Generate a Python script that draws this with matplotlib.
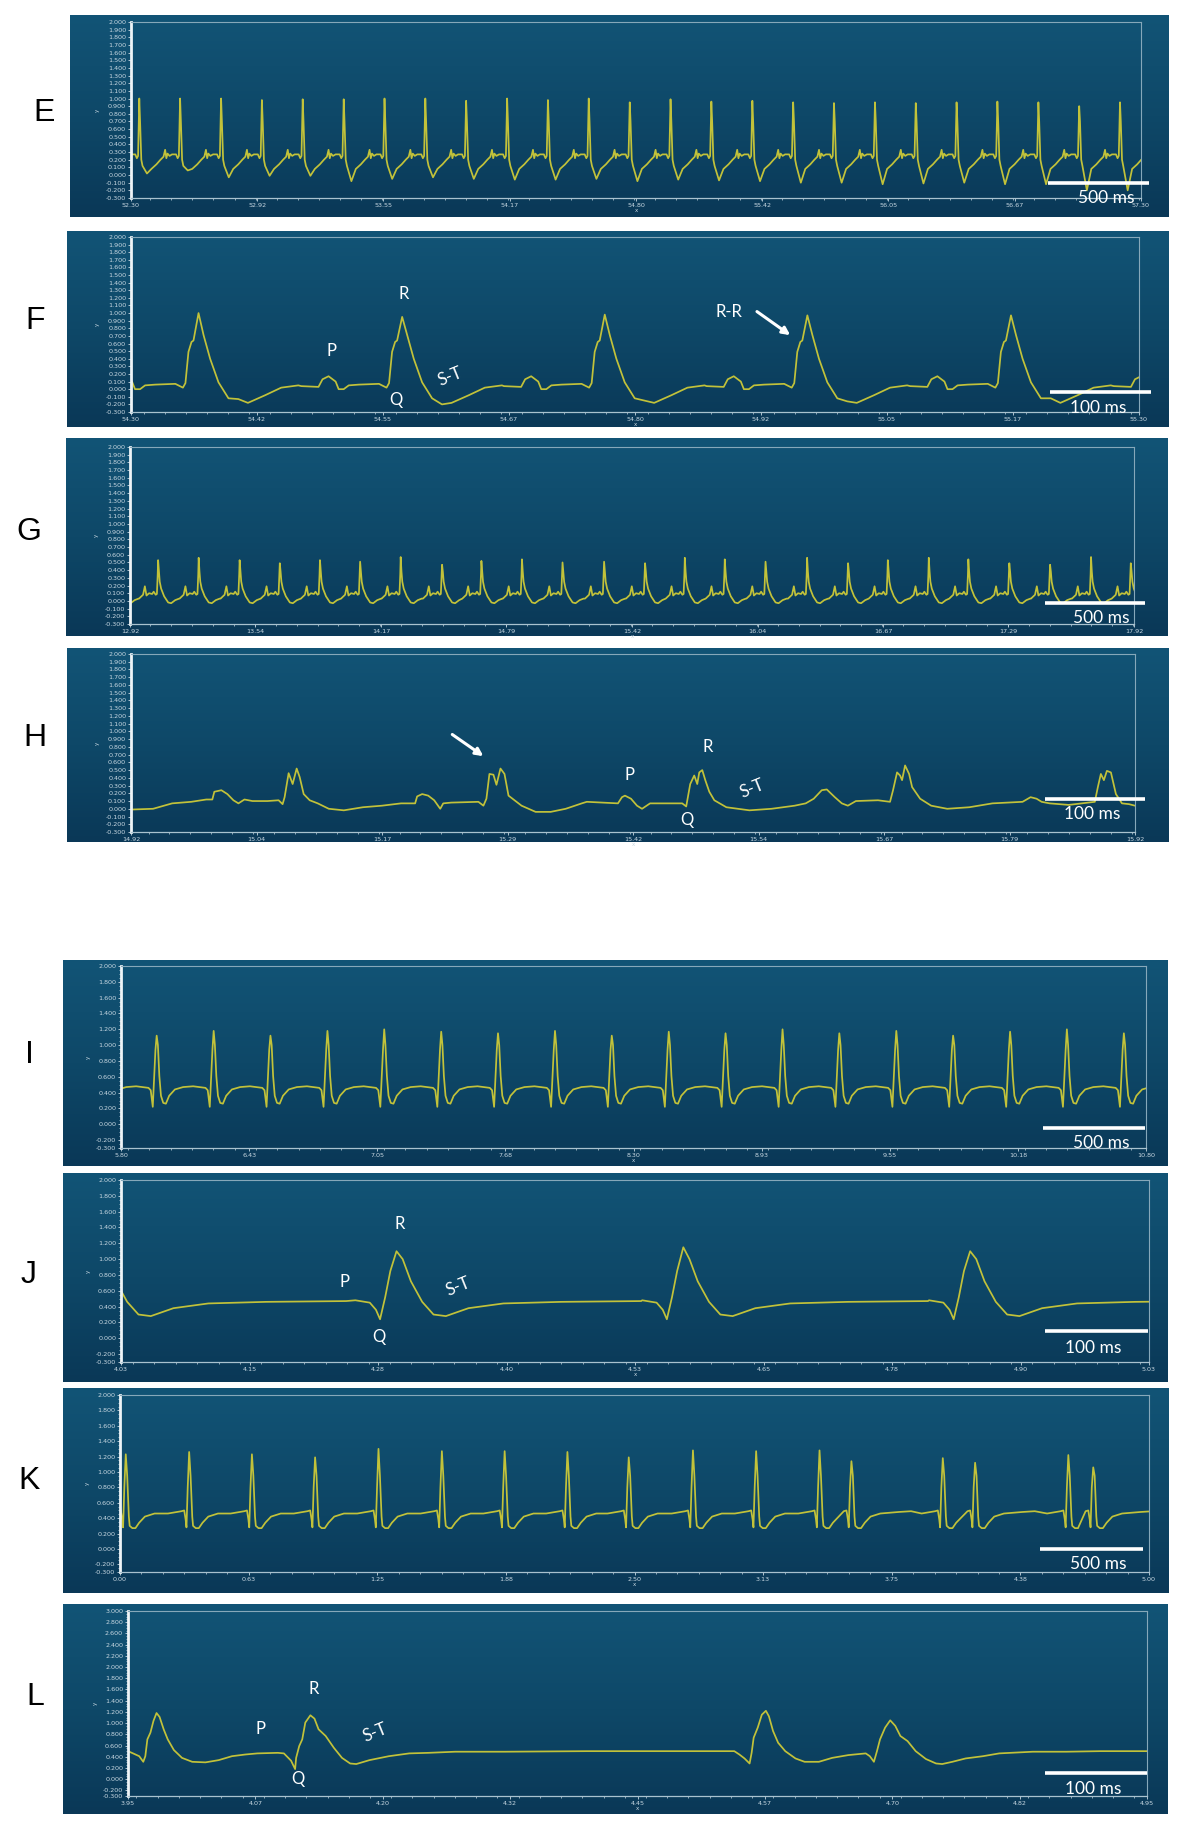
import numpy as np
import matplotlib
matplotlib.use("Agg")
import matplotlib.pyplot as plt
from matplotlib.ticker import FixedLocator, FixedFormatter, MultipleLocator
from matplotlib.colors import LinearSegmentedColormap

plt.rcParams['font.family'] = ['DejaVu Sans']

# ---------------------------------------------------------------- data
# x tick labels of each panel
E_xlabels = ['52.30', '52.92', '53.55', '54.17', '54.80', '55.42', '56.05', '56.67', '57.30']
F_xlabels = ['54.30', '54.42', '54.55', '54.67', '54.80', '54.92', '55.05', '55.17', '55.30']
G_xlabels = ['12.92', '13.54', '14.17', '14.79', '15.42', '16.04', '16.67', '17.29', '17.92']
H_xlabels = ['14.92', '15.04', '15.17', '15.29', '15.42', '15.54', '15.67', '15.79', '15.92']
I_xlabels = ['5.80', '6.43', '7.05', '7.68', '8.30', '8.93', '9.55', '10.18', '10.80']
J_xlabels = ['4.03', '4.15', '4.28', '4.40', '4.53', '4.65', '4.78', '4.90', '5.03']
K_xlabels = ['0.00', '0.63', '1.25', '1.88', '2.50', '3.13', '3.75', '4.38', '5.00']
L_xlabels = ['3.95', '4.07', '4.20', '4.32', '4.45', '4.57', '4.70', '4.82', '4.95']

# E: beat shape (time from R peak, s) and beats
E_tmpl_dt = [-0.040, -0.020, -0.012, -0.006, -0.003, 0.000, 0.004, 0.010, 0.016, 0.038,
             0.060, 0.085, 0.105, 0.120, 0.128, 0.134, 0.140, 0.150, 0.162]
E_tmpl_v = [0.27, 0.27, 0.22, 0.25, 0.60, 1.00, 0.70, 0.20, 0.12, 0.02,
            0.08, 0.14, 0.20, 0.24, 0.33, 0.22, 0.28, 0.25, 0.27]
E_beats = [52.341, 52.543, 52.746, 52.948, 53.150, 53.353, 53.555, 53.757, 53.959, 54.162,
           54.364, 54.566, 54.769, 54.971, 55.173, 55.376, 55.578, 55.780, 55.983, 56.185,
           56.387, 56.589, 56.792, 56.994, 57.196]
E_peaks = [1.00, 1.00, 1.00, 0.98, 0.99, 0.99, 1.00, 1.00, 0.97, 1.00, 0.98, 1.00, 0.95,
           0.99, 0.96, 0.97, 0.95, 0.94, 0.95, 0.94, 0.95, 0.96, 0.95, 0.90, 0.95]
E_troughs = [0.02, 0.06, -0.03, -0.01, -0.01, -0.08, -0.05, -0.03, -0.05, -0.06, -0.06, -0.05,
             -0.08, -0.06, -0.07, -0.08, -0.10, -0.10, -0.12, -0.11, -0.10, -0.12, -0.12, -0.20, -0.20]

# F
F_tmpl_dt = [-0.100, -0.083, -0.079, -0.073, -0.069, -0.066, -0.063, -0.058, -0.053, -0.043,
             -0.023, -0.0155, -0.013, -0.010, -0.007, -0.005, 0.000, 0.005, 0.0115, 0.0198,
             0.0297, 0.0395, 0.049, 0.066, 0.082, 0.099]
F_tmpl_v = [0.04, 0.03, 0.13, 0.17, 0.13, 0.10, 0.00, 0.00, 0.05, 0.06,
            0.07, 0.02, 0.08, 0.49, 0.62, 0.64, 0.95, 0.71, 0.40, 0.09,
            -0.12, -0.20, -0.18, -0.08, 0.02, 0.05]
F_beats = [54.367, 54.569, 54.770, 54.971, 55.173, 55.375]
F_peaks = [1.00, 0.95, 0.98, 0.97, 0.97, 0.97]
F_troughs = [-0.13, -0.20, -0.15, -0.16, -0.12, -0.12]

# G
G_tmpl_dt = [-0.095, -0.075, -0.066, -0.058, -0.045, -0.030, -0.022, -0.012, -0.006, -0.002,
             0.000, 0.004, 0.008, 0.015, 0.030, 0.050, 0.065, 0.085, 0.105]
G_tmpl_v = [0.03, 0.08, 0.19, 0.07, 0.10, 0.09, 0.12, 0.08, 0.09, 0.35,
            0.52, 0.38, 0.25, 0.16, 0.06, -0.02, -0.03, 0.01, 0.03]
G_beats = [12.858, 13.060, 13.262, 13.466, 13.666, 13.866, 14.066, 14.268, 14.474, 14.670,
           14.872, 15.074, 15.281, 15.485, 15.683, 15.882, 16.085, 16.292, 16.496, 16.694,
           16.898, 17.095, 17.299, 17.502, 17.706, 17.904]
G_peaks = [0.50, 0.53, 0.56, 0.53, 0.49, 0.53, 0.51, 0.57, 0.47, 0.52, 0.54, 0.50, 0.51,
           0.49, 0.56, 0.54, 0.51, 0.56, 0.49, 0.53, 0.56, 0.54, 0.49, 0.47, 0.57, 0.49]

# H (trace read point by point)
H_t = [14.920, 14.942, 14.961, 14.980, 14.995, 15.001, 15.003, 15.010, 15.016, 15.022,
       15.027, 15.033, 15.037, 15.041, 15.056, 15.067, 15.071, 15.073, 15.077, 15.081,
       15.085, 15.088, 15.092, 15.098, 15.106, 15.117, 15.132, 15.151, 15.170, 15.189,
       15.203, 15.205, 15.210, 15.216, 15.222, 15.228, 15.231, 15.239, 15.266, 15.271,
       15.274, 15.277, 15.281, 15.284, 15.288, 15.292, 15.296, 15.302, 15.309, 15.323,
       15.338, 15.353, 15.369, 15.374,
       15.405, 15.409, 15.412, 15.418, 15.424, 15.429, 15.437, 15.452, 15.469, 15.473,
       15.477, 15.481, 15.484, 15.486, 15.489, 15.492, 15.496, 15.501, 15.513, 15.536,
       15.558, 15.581, 15.592, 15.600, 15.608, 15.613, 15.621, 15.628, 15.634, 15.642,
       15.664, 15.676, 15.679, 15.683, 15.686, 15.688, 15.691, 15.695, 15.698, 15.706,
       15.717, 15.733, 15.755, 15.778, 15.808, 15.816, 15.822, 15.827, 15.835, 15.854,
       15.880, 15.883, 15.886, 15.889, 15.892, 15.896, 15.901, 15.907, 15.914, 15.920]
H_v = [-0.01, 0.00, 0.07, 0.09, 0.12, 0.12, 0.22, 0.24, 0.19, 0.11,
       0.07, 0.12, 0.11, 0.10, 0.10, 0.11, 0.06, 0.15, 0.46, 0.32,
       0.52, 0.41, 0.19, 0.11, 0.07, 0.00, -0.02, 0.02, 0.04, 0.07,
       0.07, 0.16, 0.19, 0.17, 0.11, 0.00, 0.07, 0.08, 0.09, 0.04,
       0.13, 0.45, 0.44, 0.31, 0.52, 0.45, 0.17, 0.11, 0.04, -0.04,
       -0.04, 0.00, 0.07, 0.09,
       0.07, 0.15, 0.17, 0.13, 0.04, 0.00, 0.07, 0.07, 0.07, 0.03,
       0.32, 0.43, 0.32, 0.47, 0.50, 0.37, 0.22, 0.11, 0.02, -0.02,
       0.00, 0.04, 0.07, 0.13, 0.24, 0.25, 0.15, 0.07, 0.04, 0.10,
       0.11, 0.09, 0.24, 0.47, 0.43, 0.37, 0.56, 0.45, 0.28, 0.13,
       0.04, 0.00, 0.02, 0.07, 0.09, 0.15, 0.13, 0.09, 0.07, 0.05,
       0.09, 0.28, 0.45, 0.37, 0.49, 0.47, 0.19, 0.07, 0.06, 0.04]

# I
I_tmpl_dt = [-0.100, -0.040, -0.029, -0.019, -0.013, -0.006, 0.000, 0.006, 0.013, 0.021,
             0.032, 0.045, 0.061, 0.089, 0.129, 0.176]
I_tmpl_v = [0.48, 0.46, 0.43, 0.22, 0.55, 0.94, 1.12, 1.00, 0.61, 0.36,
            0.27, 0.26, 0.36, 0.44, 0.47, 0.48]
I_beats = [5.697, 5.974, 6.252, 6.529, 6.807, 7.084, 7.362, 7.639, 7.917, 8.194,
           8.472, 8.749, 9.027, 9.304, 9.582, 9.859, 10.137, 10.414, 10.692]
I_peaks = [1.15, 1.12, 1.18, 1.12, 1.18, 1.20, 1.17, 1.15, 1.18, 1.12,
           1.17, 1.15, 1.20, 1.15, 1.18, 1.12, 1.17, 1.20, 1.15]

# J
J_tmpl_dt = [-0.040, -0.026, -0.020, -0.016, -0.011, -0.006, 0.000, 0.006, 0.014, 0.025,
             0.036, 0.048, 0.070, 0.104, 0.160, 0.238]
J_tmpl_v = [0.48, 0.45, 0.36, 0.24, 0.52, 0.85, 1.10, 1.00, 0.72, 0.46,
            0.30, 0.28, 0.38, 0.44, 0.46, 0.47]
J_beats = [4.011, 4.298, 4.577, 4.856]
J_peaks = [1.10, 1.10, 1.15, 1.10]

# K
K_tmpl_dt = [-0.103, -0.037, -0.024, -0.017, -0.013, -0.007, 0.000, 0.007, 0.015, 0.019,
             0.032, 0.047, 0.065, 0.093, 0.140, 0.230, 0.290]
K_tmpl_v = [0.46, 0.49, 0.50, 0.38, 0.28, 0.80, 1.25, 0.95, 0.42, 0.30,
            0.27, 0.27, 0.34, 0.42, 0.46, 0.48, 0.49]
K_beats = [0.028, 0.336, 0.641, 0.948, 1.256, 1.564, 1.869, 2.174, 2.472, 2.784,
           3.091, 3.399, 3.554, 3.998, 4.155, 4.608, 4.729]
K_peaks = [1.23, 1.26, 1.23, 1.19, 1.30, 1.27, 1.27, 1.26, 1.19, 1.28,
           1.27, 1.28, 1.14, 1.18, 1.12, 1.22, 1.06]

# L (trace read point by point)
L_t = [3.950, 3.955, 3.961, 3.965, 3.967, 3.969, 3.972, 3.975, 3.978, 3.981,
       3.985, 3.989, 3.995, 4.003, 4.013, 4.026, 4.039, 4.052, 4.065, 4.077,
       4.097, 4.103, 4.110, 4.114, 4.115, 4.118, 4.121, 4.124, 4.129, 4.133,
       4.137, 4.144, 4.152, 4.160, 4.168, 4.174, 4.187, 4.206, 4.226, 4.245, 4.271,
       4.320, 4.400, 4.450,
       4.509, 4.545, 4.550, 4.555, 4.560, 4.562, 4.564, 4.568, 4.572, 4.576,
       4.579, 4.583, 4.588, 4.595, 4.605, 4.614, 4.628, 4.641, 4.657, 4.674,
       4.678, 4.682, 4.685, 4.688, 4.693, 4.698, 4.703, 4.708, 4.715, 4.723,
       4.733, 4.743, 4.749, 4.759, 4.772, 4.789, 4.805, 4.838, 4.871, 4.904, 4.950]
L_v = [0.50, 0.46, 0.41, 0.31, 0.41, 0.71, 0.83, 1.04, 1.18, 1.11,
       0.89, 0.71, 0.52, 0.38, 0.31, 0.30, 0.34, 0.41, 0.44, 0.46,
       0.47, 0.46, 0.33, 0.18, 0.38, 0.59, 0.71, 1.01, 1.14, 1.08,
       0.89, 0.77, 0.56, 0.38, 0.28, 0.27, 0.34, 0.41, 0.46, 0.47, 0.49,
       0.49, 0.50, 0.50,
       0.50, 0.50, 0.44, 0.37, 0.28, 0.47, 0.74, 0.92, 1.15, 1.22,
       1.12, 0.86, 0.65, 0.50, 0.37, 0.31, 0.31, 0.38, 0.43, 0.46,
       0.41, 0.31, 0.50, 0.71, 0.92, 1.05, 0.95, 0.77, 0.68, 0.50,
       0.36, 0.28, 0.27, 0.31, 0.37, 0.41, 0.46, 0.49, 0.49, 0.50, 0.50]


# ---------------------------------------------------------------- helpers
def build(beats, peaks, tdt, tv, ipk, troughs=None, itr=None):
    tdt = np.asarray(tdt, float)
    tv = np.asarray(tv, float)
    pre = -tdt[0]
    ts, vs = [], []
    n = len(beats)
    for k in range(n):
        bt = beats[k]
        gp = beats[k] - beats[k - 1] if k > 0 else np.inf
        gn = beats[k + 1] - beats[k] if k < n - 1 else np.inf
        lo = -min(pre, 0.5 * gp)
        hi = gn - min(pre, 0.5 * gn)
        vv = tv.copy()
        vv[ipk] = peaks[k]
        if troughs is not None:
            vv[itr] = troughs[k]
        m = (tdt >= lo - 1e-9) & (tdt < hi)
        ts.extend(bt + tdt[m])
        vs.extend(vv[m])
    return np.array(ts), np.array(vs)


E_t, E_v = build(E_beats, E_peaks, E_tmpl_dt, E_tmpl_v, 5, E_troughs, 9)
F_t, F_v = build(F_beats, F_peaks, F_tmpl_dt, F_tmpl_v, 16, F_troughs, 21)
G_t, G_v = build(G_beats, G_peaks, G_tmpl_dt, G_tmpl_v, 10)
I_t, I_v = build(I_beats, I_peaks, I_tmpl_dt, I_tmpl_v, 6)
J_t, J_v = build(J_beats, J_peaks, J_tmpl_dt, J_tmpl_v, 6)
K_t, K_v = build(K_beats, K_peaks, K_tmpl_dt, K_tmpl_v, 6)

W, H = 1185, 1829
fig = plt.figure(figsize=(W / 100, H / 100), dpi=100)
fig.patch.set_facecolor('white')


def frect(l, t, r, b):
    return [l / W, 1 - b / H, (r - l) / W, (b - t) / H]


cmap = LinearSegmentedColormap.from_list('bg', ['#125476', '#0e4868', '#0a3857'])
TRACE = '#c2c23a'
TICKC = '#c8d8e2'

panels = [
    dict(name='E', rect=(70, 15, 1169, 217), ax=(131, 22, 1141, 198), xl=E_xlabels, t=E_t, v=E_v,
         ytop=2.0, fine=True, bar=0.5, bar_px=(1048, 183), txt_px=(1106, 198), lab=(44, 113)),
    dict(name='F', rect=(67, 231, 1169, 427), ax=(131, 237, 1139, 412), xl=F_xlabels, t=F_t, v=F_v,
         ytop=2.0, fine=True, bar=0.1, bar_px=(1050, 392), txt_px=(1098, 408), lab=(35, 321)),
    dict(name='G', rect=(66, 438, 1168, 636), ax=(130, 447, 1134, 624), xl=G_xlabels, t=G_t, v=G_v,
         ytop=2.0, fine=True, bar=0.5, bar_px=(1045, 603), txt_px=(1101, 618), lab=(29, 532)),
    dict(name='H', rect=(67, 648, 1169, 842), ax=(131, 654, 1135, 832), xl=H_xlabels, t=H_t, v=H_v,
         ytop=2.0, fine=True, bar=0.1, bar_px=(1045, 799), txt_px=(1092, 814), lab=(35, 738)),
    dict(name='I', rect=(63, 960, 1168, 1166), ax=(121, 966, 1146, 1148), xl=I_xlabels, t=I_t, v=I_v,
         ytop=2.0, fine=False, bar=0.5, bar_px=(1043, 1128), txt_px=(1101, 1143), lab=(29, 1055)),
    dict(name='J', rect=(63, 1173, 1168, 1382), ax=(121, 1180, 1149, 1362), xl=J_xlabels, t=J_t, v=J_v,
         ytop=2.0, fine=False, bar=0.1, bar_px=(1045, 1331), txt_px=(1093, 1348), lab=(29, 1275)),
    dict(name='K', rect=(63, 1388, 1169, 1593), ax=(120, 1395, 1149, 1572), xl=K_xlabels, t=K_t, v=K_v,
         ytop=2.0, fine=False, bar=0.5, bar_px=(1040, 1549), txt_px=(1098, 1564), lab=(29, 1481)),
    dict(name='L', rect=(63, 1604, 1168, 1814), ax=(128, 1611, 1147, 1796), xl=L_xlabels, t=L_t, v=L_v,
         ytop=3.0, fine=False, bar=0.1, bar_px=(1045, 1773), txt_px=(1093, 1789), lab=(35, 1697)),
]

axes = {}
for p in panels:
    bg = fig.add_axes(frect(*p['rect']))
    bg.imshow(np.linspace(0, 1, 256).reshape(-1, 1), aspect='auto', cmap=cmap,
              extent=[0, 1, 0, 1], interpolation='bilinear')
    bg.set_axis_off()

    ax = fig.add_axes(frect(*p['ax']))
    ax.set_facecolor('none')
    t0, t1 = float(p['xl'][0]), float(p['xl'][-1])
    y0, y1 = -0.3, p['ytop']
    ax.set_xlim(t0, t1)
    ax.set_ylim(y0, y1)
    ax.plot(p['t'], p['v'], color=TRACE, lw=1.25, solid_joinstyle='round')

    # ticks
    xt = [t0 + k * (t1 - t0) / 8 for k in range(9)]
    ax.xaxis.set_major_locator(FixedLocator(xt))
    ax.xaxis.set_major_formatter(FixedFormatter(p['xl']))
    ax.xaxis.set_minor_locator(MultipleLocator((t1 - t0) / 48))
    if p['fine']:
        yt = [round(k * 0.1, 3) for k in range(-3, 21)]
    else:
        yt = [-0.3, -0.2] + [round(k * 0.2, 3) for k in range(0, int(round(p['ytop'] / 0.2)) + 1)]
        ax.yaxis.set_minor_locator(MultipleLocator(0.05))
    ax.yaxis.set_major_locator(FixedLocator(yt))
    ax.yaxis.set_major_formatter(FixedFormatter(['%.3f' % v for v in yt]))
    ax.tick_params(axis='both', which='major', labelsize=4.6, colors=TICKC, length=2.5,
                   width=0.6, pad=1)
    ax.tick_params(axis='both', which='minor', colors=TICKC, length=1.6, width=0.5)
    ax.set_xlabel('x', fontsize=4, color=TICKC, labelpad=0)
    ax.set_ylabel('y', fontsize=4, color=TICKC, labelpad=4)

    ax.spines['left'].set_color('#eef4f7')
    ax.spines['left'].set_linewidth(2.0)
    ax.spines['bottom'].set_color('#a9c2cf')
    ax.spines['bottom'].set_linewidth(0.9)
    for s in ('top', 'right'):
        ax.spines[s].set_color('#86a8ba')
        ax.spines[s].set_linewidth(0.8)

    # scale bar and its text (pixel positions -> data)
    l, t, r, b = p['ax']

    def px2d(xp, yp):
        return (t0 + (xp - l) / (r - l) * (t1 - t0), y1 - (yp - t) / (b - t) * (y1 - y0))

    bx, by = px2d(*p['bar_px'])
    ax.plot([bx, bx + p['bar']], [by, by], color='white', lw=2.6, solid_capstyle='butt',
            clip_on=False, zorder=5)
    tx, ty = px2d(*p['txt_px'])
    ax.text(tx, ty, '%d ms' % int(round(p['bar'] * 1000)), color='white', fontsize=12.5,
            family=['Lato', 'DejaVu Sans'], ha='center', va='center', clip_on=False, zorder=6)

    fig.text(p['lab'][0] / W, 1 - p['lab'][1] / H, p['name'], fontsize=23,
             family=['Liberation Sans', 'DejaVu Sans'], ha='center', va='center', color='black')
    axes[p['name']] = ax

ann = dict(color='white', fontsize=12, family=['Lato', 'DejaVu Sans'], ha='center', va='center')

ax = axes['F']
ax.text(54.571, 1.25, 'R', **ann)
ax.text(54.499, 0.50, 'P', **ann)
ax.text(54.563, -0.14, 'Q', **ann)
ax.text(54.617, 0.16, 'S-T', rotation=22, **ann)
ax.text(54.893, 1.01, 'R-R', **ann)
ax.annotate('', xy=(54.954, 0.71), xytext=(54.921, 1.02),
            arrowprops=dict(arrowstyle='-|>', color='white', lw=2.2, mutation_scale=11,
                            shrinkA=0, shrinkB=0))

ax = axes['H']
ax.text(15.417, 0.44, 'P', **ann)
ax.text(15.494, 0.80, 'R', **ann)
ax.text(15.474, -0.15, 'Q', **ann)
ax.text(15.539, 0.26, 'S-T', rotation=22, **ann)
ax.annotate('', xy=(15.271, 0.68), xytext=(15.240, 0.96),
            arrowprops=dict(arrowstyle='-|>', color='white', lw=2.2, mutation_scale=11,
                            shrinkA=0, shrinkB=0))

ax = axes['J']
ax.text(4.301, 1.44, 'R', **ann)
ax.text(4.247, 0.71, 'P', **ann)
ax.text(4.281, 0.01, 'Q', **ann)
ax.text(4.358, 0.65, 'S-T', rotation=22, **ann)

ax = axes['L']
ax.text(4.132, 1.61, 'R', **ann)
ax.text(4.080, 0.90, 'P', **ann)
ax.text(4.117, 0.00, 'Q', **ann)
ax.text(4.193, 0.83, 'S-T', rotation=22, **ann)

fig.savefig('out.png', dpi=100, facecolor='white')
